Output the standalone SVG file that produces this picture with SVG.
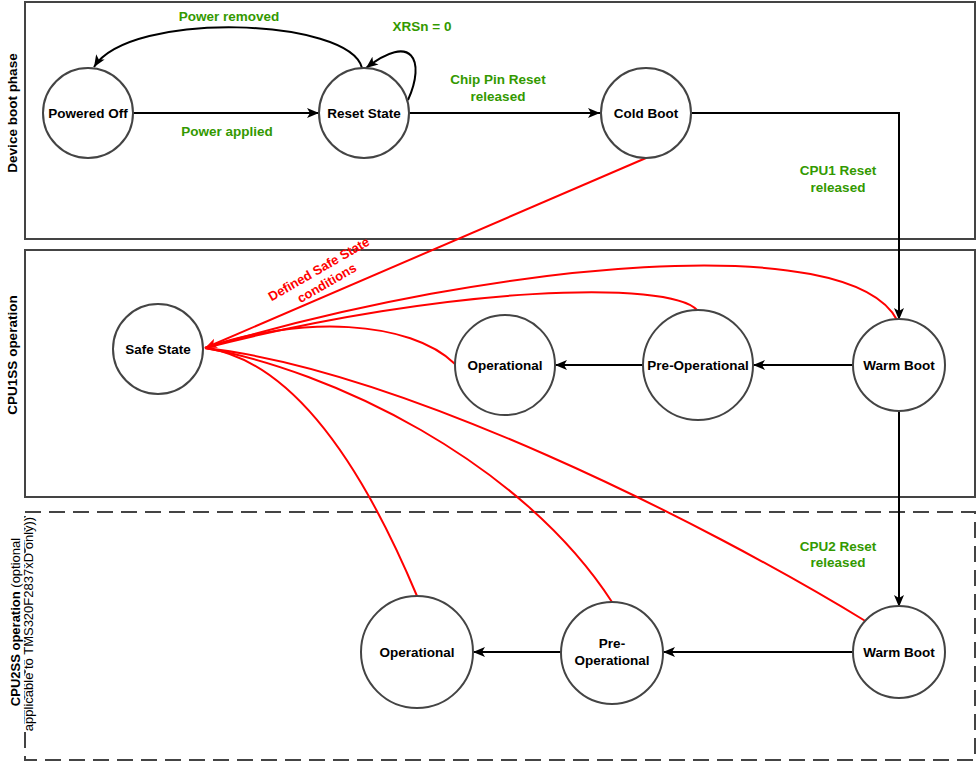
<svg xmlns="http://www.w3.org/2000/svg" width="978" height="763" viewBox="0 0 978 763">
<defs>
<marker id="arr" markerUnits="userSpaceOnUse" markerWidth="14" markerHeight="12" refX="12" refY="5" orient="auto">
<path d="M0,0 L12,5 L0,10 L3,5 Z" fill="#000"/>
</marker>
<marker id="arrR" markerUnits="userSpaceOnUse" markerWidth="14" markerHeight="12" refX="12" refY="5" orient="auto">
<path d="M0,0 L12,5 L0,10 L3,5 Z" fill="#ff0000"/>
</marker>
<style>
.frame{fill:none;stroke:#444;stroke-width:2}
.dash{fill:none;stroke:#444;stroke-width:2;stroke-dasharray:16 8}
.node{fill:#fff;stroke:#444;stroke-width:2}
.nt{font-family:"Liberation Sans",Arial,sans-serif;font-weight:bold;font-size:13.5px;fill:#000;text-anchor:middle}
.gl{font-family:"Liberation Sans",Arial,sans-serif;font-weight:bold;font-size:13.5px;fill:#339900;text-anchor:middle}
.rl{font-family:"Liberation Sans",Arial,sans-serif;font-weight:bold;font-size:13px;fill:#ff0000;text-anchor:middle}
.lane{font-family:"Liberation Sans",Arial,sans-serif;font-weight:bold;font-size:13.5px;fill:#000;text-anchor:middle}
.lane2{font-family:"Liberation Sans",Arial,sans-serif;font-size:13px;fill:#000;text-anchor:middle}
.blk{fill:none;stroke:#000;stroke-width:2}
.red{fill:none;stroke:#ff0000;stroke-width:2}
</style>
</defs>
<rect width="978" height="763" fill="#fff"/>
<g id="lanes">
<rect class="frame" x="25" y="2" width="950" height="237"/>
<rect class="frame" x="25" y="250" width="950" height="247"/>
<rect class="dash" x="25" y="512" width="950" height="248"/>
<text class="lane" transform="translate(17,113) rotate(-90)">Device boot phase</text>
<text class="lane" transform="translate(17,355) rotate(-90)">CPU1SS operation</text>
<text class="lane2" transform="translate(20,622) rotate(-90)"><tspan font-weight="bold">CPU2SS operation</tspan> (optional</text>
<text class="lane2" transform="translate(33,624) rotate(-90)" stroke="#fff" stroke-width="3" paint-order="stroke">applicable to TMS320F2837xD only))</text>
</g>
<g id="connectors">
<path class="blk" d="M133,113 L319,113" marker-end="url(#arr)"/>
<path class="blk" d="M362,68 C350,18 130,10 94,67" marker-end="url(#arr)"/>
<path class="blk" d="M408,100 C426,60 412,32 366,68" marker-end="url(#arr)"/>
<path class="blk" d="M409,113 L600,113" marker-end="url(#arr)"/>
<path class="blk" d="M692,113 L899,113 L899,320" marker-end="url(#arr)"/>
<path class="blk" d="M853,365 L753,365" marker-end="url(#arr)"/>
<path class="blk" d="M643,365 L555,365" marker-end="url(#arr)"/>
<path class="blk" d="M899,411 L899,607" marker-end="url(#arr)"/>
<path class="blk" d="M853,652 L663,652" marker-end="url(#arr)"/>
<path class="blk" d="M562,652 L473,652" marker-end="url(#arr)"/>
<path class="red" d="M897,320 C850,230 500,260 205,348"/>
<path class="red" d="M697,310 C670,280 450,285 205,348"/>
<path class="red" d="M455,364 C410,320 300,315 205,348"/>
<path class="red" d="M417,596 C360,460 290,360 205,348"/>
<path class="red" d="M612,602 C520,460 330,370 205,348"/>
<path class="red" d="M867,622 C700,520 400,370 205,348"/>
<path class="red" d="M646,158 L205,348" marker-end="url(#arrR)"/>
<text class="gl" x="229" y="21">Power removed</text>
<text class="gl" x="422" y="31">XRSn = 0</text>
<text class="gl" x="227" y="136">Power applied</text>
<text class="gl" x="498" y="84">Chip Pin Reset</text>
<text class="gl" x="498" y="101">released</text>
<text class="gl" x="838" y="175">CPU1 Reset</text>
<text class="gl" x="838" y="192">released</text>
<text class="gl" x="838" y="551">CPU2 Reset</text>
<text class="gl" x="838" y="567">released</text>
<g transform="translate(321,273) rotate(-30)">
<text class="rl" x="0" y="0">Defined Safe State</text>
<text class="rl" x="0" y="16">conditions</text>
</g>
</g>
<g id="powered-off"><circle class="node" cx="88" cy="113" r="45"/><text class="nt" x="88" y="118">Powered Off</text></g>
<g id="reset-state"><circle class="node" cx="364" cy="113" r="45"/><text class="nt" x="364" y="118">Reset State</text></g>
<g id="cold-boot"><circle class="node" cx="646" cy="113" r="45"/><text class="nt" x="646" y="118">Cold Boot</text></g>
<g id="safe-state"><circle class="node" cx="158" cy="349" r="45"/><text class="nt" x="158" y="354">Safe State</text></g>
<g id="cpu1-operational"><circle class="node" cx="505" cy="365" r="50"/><text class="nt" x="505" y="370">Operational</text></g>
<g id="cpu1-pre-operational"><circle class="node" cx="698" cy="365" r="55"/><text class="nt" x="698" y="370">Pre-Operational</text></g>
<g id="cpu1-warm-boot"><circle class="node" cx="899" cy="365" r="46"/><text class="nt" x="899" y="370">Warm Boot</text></g>
<g id="cpu2-warm-boot"><circle class="node" cx="899" cy="652" r="46"/><text class="nt" x="899" y="657">Warm Boot</text></g>
<g id="cpu2-pre-operational"><circle class="node" cx="612" cy="653" r="51"/><text class="nt" x="612" y="648">Pre-</text><text class="nt" x="612" y="665">Operational</text></g>
<g id="cpu2-operational"><circle class="node" cx="417" cy="652" r="56"/><text class="nt" x="417" y="657">Operational</text></g>
</svg>
